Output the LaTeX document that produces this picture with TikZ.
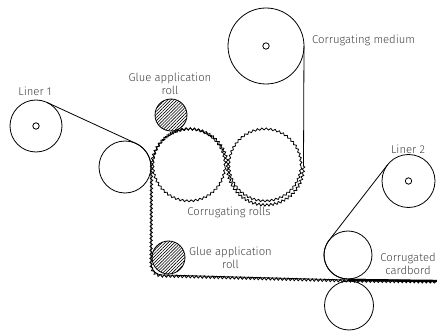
\documentclass[tikz,border=0pt]{standalone}
\usepackage{fontspec}
\setmainfont{Fira Sans Light}
\usetikzlibrary{patterns.meta,decorations.pathmorphing}
\definecolor{lbl}{HTML}{404040}
\tikzset{
  x=1pt,y=1pt,
  roll/.style={circle,draw,inner sep=0pt,outer sep=0pt,line width=.8pt,minimum size=#1},
  hub/.style={circle,draw,inner sep=0pt,outer sep=0pt,line width=.8pt,minimum size=6.4pt},
  hatched/.style={pattern={Lines[angle=45,distance=2.2pt,line width=.6pt]}},
  teeth/.style={decorate,decoration={snake,segment length=4.4pt,amplitude=1pt}},
  web/.style={line width=.8pt,line join=round},
  flute/.style={line width=.8pt,decorate,decoration={snake,segment length=4pt,amplitude=1.2pt}},
  lab/.style={text=lbl,font=\fontsize{11.3}{13}\selectfont,align=center,inner sep=0pt}
}
\begin{document}
\begin{tikzpicture}
\useasboundingbox (0,0) rectangle (437,330);
\node[roll=52pt] (liner1) at (36,204) {};
\node[hub] (hub1) at (36,204) {};
\node[roll=52pt] (guide) at (125,163) {};
\node[roll=76pt] (medium) at (266,284) {};
\node[hub] (hubm) at (266,284) {};
\node[roll=53pt] (liner2) at (408.5,149) {};
\node[hub] (hub2) at (408.5,149) {};
\node[roll=48pt] (pressU) at (348,75) {};
\node[roll=49pt] (pressL) at (349,24.5) {};
\node[roll=72pt,teeth] (rollL) at (189,164) {};
\node[roll=72pt,teeth] (rollR) at (265,164) {};
\node[roll=32pt,hatched] (glueT) at (171,215) {};
\node[roll=33pt,hatched] (glueL) at (168.5,72.5) {};
\coordinate (mediumEnd) at (303.5,164);
\coordinate (cornerA) at (151,68);
\coordinate (cornerB) at (163,55);
\coordinate (nip) at (348,50);
\coordinate (exit) at (437,49);
% medium
\draw[web] (medium.0) -- (mediumEnd);
\draw[flute] (mediumEnd) arc[start angle=0,end angle=-180,radius=38]
  arc[start angle=0,end angle=180,radius=38] -- (cornerA)
  .. controls (151,60) and (155,55) .. (cornerB) -- (nip) -- (exit);
% liners
\draw[web] (liner1.65) -- (guide.65) arc[start angle=65,end angle=0,radius=26] -- (cornerA)
  .. controls (151,60) and (155,55) .. (cornerB) -- (nip) -- (exit);
\draw[web] (liner2.142) -- (pressU.142) arc[start angle=142,end angle=270,radius=24] -- (exit);
\draw[line width=2.4pt] (nip) -- (exit);
% labels
\node[lab] (t1) at (35,239) {Liner 1};
\node[lab] (t2) at (170,246.5) {Glue application\\roll};
\node[lab,anchor=west] (t3) at (312,290) {Corrugating medium};
\node[lab] (t4) at (229,118) {Corrugating rolls};
\node[lab] (t5) at (230.5,72) {Glue application\\roll};
\node[lab] (t6) at (408,181) {Liner 2};
\node[lab] (t7) at (408,66) {Corrugated\\cardbord};
\end{tikzpicture}
\end{document}
